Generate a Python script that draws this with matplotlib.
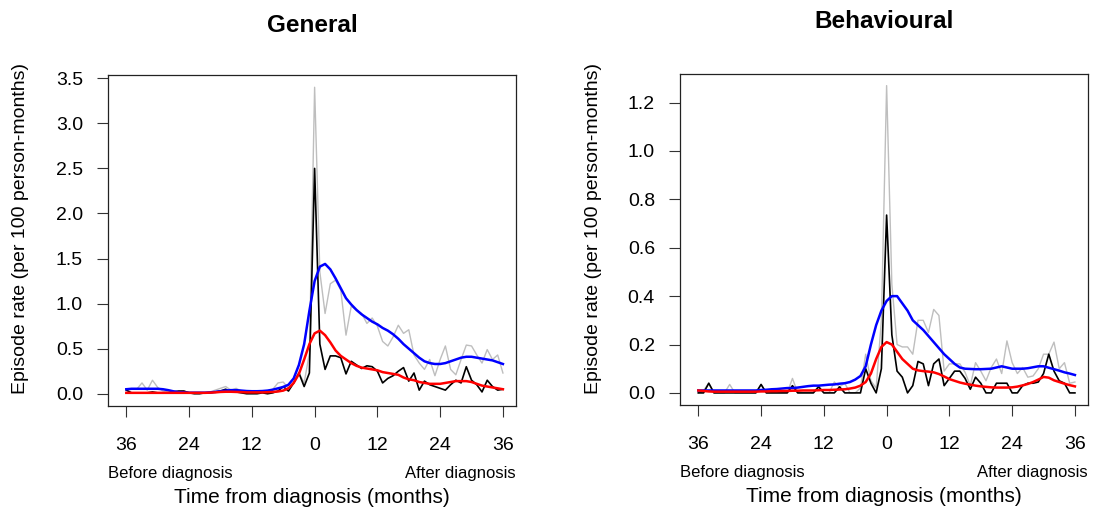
"""
Episode rates around diagnosis - General vs Behavioural panels.
"""

import matplotlib
matplotlib.use('Agg')
import matplotlib.pyplot as plt
import numpy as np

plt.rcParams['font.family'] = ['Liberation Sans', 'DejaVu Sans']

# months relative to diagnosis
months = list(range(-36, 37))

# ---- General panel ----
gen_grey = [0.04, 0.05, 0.05, 0.12, 0.04, 0.15, 0.07, 0.03, 0.02, 0.03,
            0.02, 0.03, 0.01, 0.01, 0.01, 0.01, 0.02, 0.04, 0.06, 0.08,
            0.04, 0.06, 0.03, 0.02, 0.02, 0.02, 0.02, 0.03, 0.05, 0.12,
            0.13, 0.06, 0.12, 0.23, 0.12, 0.45, 3.40, 1.35, 0.89, 1.22,
            1.26, 1.15, 0.65, 0.97, 0.93, 0.89, 0.78, 0.84, 0.75, 0.58,
            0.53, 0.63, 0.76, 0.67, 0.71, 0.43, 0.34, 0.27, 0.38, 0.20,
            0.38, 0.53, 0.27, 0.21, 0.38, 0.54, 0.53, 0.43, 0.34, 0.49,
            0.38, 0.43, 0.23]
gen_black = [0.04, 0.01, 0.01, 0.01, 0.01, 0.02, 0.01, 0.01, 0.01, 0.02,
             0.03, 0.03, 0.01, 0.00, 0.00, 0.01, 0.01, 0.02, 0.03, 0.05,
             0.02, 0.02, 0.01, 0.00, 0.00, 0.00, 0.01, 0.00, 0.01, 0.03,
             0.08, 0.03, 0.12, 0.23, 0.08, 0.23, 2.50, 0.55, 0.27, 0.42,
             0.42, 0.40, 0.22, 0.36, 0.32, 0.28, 0.31, 0.30, 0.25, 0.12,
             0.17, 0.20, 0.25, 0.29, 0.14, 0.23, 0.04, 0.14, 0.10, 0.08,
             0.06, 0.04, 0.10, 0.15, 0.12, 0.30, 0.15, 0.10, 0.02, 0.15,
             0.08, 0.04, 0.05]
gen_blue = [0.05, 0.055, 0.055, 0.055, 0.055, 0.055, 0.055, 0.05, 0.04, 0.027,
            0.018, 0.015, 0.012, 0.012, 0.012, 0.012, 0.015, 0.02, 0.028, 0.035,
            0.04, 0.04, 0.035, 0.03, 0.028, 0.028, 0.03, 0.035, 0.045, 0.06,
            0.075, 0.10, 0.17, 0.32, 0.55, 0.92, 1.25, 1.41, 1.44, 1.38,
            1.28, 1.17, 1.06, 0.99, 0.93, 0.88, 0.84, 0.80, 0.77, 0.73,
            0.70, 0.66, 0.61, 0.55, 0.50, 0.45, 0.40, 0.36, 0.34, 0.33,
            0.33, 0.34, 0.36, 0.38, 0.40, 0.41, 0.41, 0.40, 0.39, 0.38,
            0.37, 0.35, 0.33]
gen_red = [0.01, 0.01, 0.01, 0.01, 0.01, 0.01, 0.01, 0.01, 0.01, 0.01,
           0.01, 0.01, 0.01, 0.01, 0.01, 0.01, 0.012, 0.015, 0.02, 0.022,
           0.022, 0.02, 0.018, 0.015, 0.015, 0.015, 0.015, 0.017, 0.02, 0.025,
           0.035, 0.06, 0.12, 0.22, 0.38, 0.55, 0.67, 0.70, 0.65, 0.57,
           0.48, 0.42, 0.38, 0.34, 0.31, 0.29, 0.28, 0.27, 0.26, 0.24,
           0.23, 0.22, 0.21, 0.18, 0.16, 0.15, 0.13, 0.12, 0.11, 0.11,
           0.11, 0.12, 0.13, 0.14, 0.14, 0.14, 0.13, 0.11, 0.09, 0.08,
           0.07, 0.06, 0.05]

# ---- Behavioural panel ----
beh_grey = [0.0, 0.01, 0.04, 0.0, 0.0, 0.0, 0.035, 0.0, 0.0, 0.0,
            0.0, 0.0, 0.035, 0.0, 0.0, 0.0, 0.0, 0.0, 0.06, 0.0,
            0.0, 0.0, 0.0, 0.03, 0.0, 0.0, 0.045, 0.025, 0.04, 0.0,
            0.0, 0.02, 0.16, 0.05, 0.02, 0.30, 1.27, 0.45, 0.20, 0.19,
            0.19, 0.16, 0.30, 0.30, 0.25, 0.345, 0.32, 0.09, 0.12, 0.12,
            0.12, 0.085, 0.03, 0.125, 0.09, 0.05, 0.105, 0.14, 0.08, 0.215,
            0.125, 0.08, 0.105, 0.065, 0.07, 0.10, 0.16, 0.16, 0.21, 0.10,
            0.125, 0.04, 0.045]
beh_black = [0.0, 0.0, 0.04, 0.0, 0.0, 0.0, 0.0, 0.0, 0.0, 0.0,
             0.0, 0.0, 0.035, 0.0, 0.0, 0.0, 0.0, 0.0, 0.03, 0.0,
             0.0, 0.0, 0.0, 0.025, 0.0, 0.0, 0.0, 0.025, 0.0, 0.0,
             0.0, 0.0, 0.10, 0.04, 0.0, 0.10, 0.735, 0.24, 0.09, 0.065,
             0.0, 0.03, 0.13, 0.12, 0.03, 0.12, 0.14, 0.03, 0.06, 0.09,
             0.09, 0.06, 0.015, 0.065, 0.04, 0.0, 0.0, 0.04, 0.04, 0.04,
             0.0, 0.0, 0.03, 0.04, 0.04, 0.045, 0.08, 0.16, 0.09, 0.05,
             0.04, 0.0, 0.0]
beh_blue = [0.01, 0.01, 0.01, 0.01, 0.01, 0.01, 0.01, 0.01, 0.01, 0.01,
            0.01, 0.01, 0.012, 0.013, 0.015, 0.016, 0.018, 0.02, 0.02, 0.022,
            0.025, 0.028, 0.03, 0.03, 0.032, 0.034, 0.035, 0.038, 0.04, 0.045,
            0.055, 0.07, 0.11, 0.20, 0.28, 0.34, 0.38, 0.40, 0.40, 0.37,
            0.34, 0.30, 0.28, 0.26, 0.235, 0.21, 0.185, 0.16, 0.14, 0.12,
            0.105, 0.10, 0.099, 0.098, 0.098, 0.099, 0.10, 0.105, 0.11, 0.105,
            0.10, 0.10, 0.10, 0.102, 0.106, 0.11, 0.11, 0.104, 0.098, 0.092,
            0.085, 0.08, 0.074]
beh_red = [0.01, 0.008, 0.006, 0.005, 0.005, 0.005, 0.005, 0.005, 0.005, 0.005,
           0.005, 0.005, 0.006, 0.006, 0.007, 0.007, 0.008, 0.008, 0.009, 0.009,
           0.01, 0.01, 0.01, 0.011, 0.012, 0.012, 0.013, 0.014, 0.015, 0.018,
           0.022, 0.03, 0.045, 0.08, 0.14, 0.19, 0.21, 0.20, 0.17, 0.14,
           0.12, 0.10, 0.093, 0.09, 0.088, 0.085, 0.078, 0.068, 0.057, 0.05,
           0.043, 0.038, 0.034, 0.03, 0.027, 0.025, 0.023, 0.022, 0.022, 0.022,
           0.023, 0.026, 0.031, 0.037, 0.045, 0.055, 0.066, 0.063, 0.052, 0.045,
           0.038, 0.032, 0.027]

xtick_pos = [-36, -24, -12, 0, 12, 24, 36]
xtick_labels = ['36', '24', '12', '0', '12', '24', '36']


def draw_panel(ax, grey, black, blue, red, ylim, yticks):
    ax.plot(months, grey, color='#BEBEBE', linewidth=1.0)
    ax.plot(months, black, color='black', linewidth=1.2)
    ax.plot(months, blue, color='#0000FF', linewidth=1.8)
    ax.plot(months, red, color='#FF0000', linewidth=1.8)

    ax.set_xlim(-39.5, 38.5)
    ax.set_ylim(*ylim)
    ax.set_xticks(xtick_pos)
    ax.set_xticklabels(xtick_labels)
    ax.set_yticks(yticks)
    ax.set_yticklabels([f'{t:.1f}' for t in yticks])

    ax.tick_params(axis='both', direction='out', length=8, width=0.8,
                   labelsize=14, color='#333333')
    ax.tick_params(axis='x', pad=14)
    ax.tick_params(axis='y', pad=10)
    for sp in ax.spines.values():
        sp.set_linewidth(0.9)
        sp.set_color('#222222')

    ax.text(0.0, -0.203, 'Before diagnosis', transform=ax.transAxes,
            ha='left', va='center', fontsize=12)
    ax.text(1.0, -0.203, 'After diagnosis', transform=ax.transAxes,
            ha='right', va='center', fontsize=12)
    ax.set_xlabel('Time from diagnosis (months)', fontsize=15)
    ax.xaxis.label.set_va('center')
    ax.xaxis.set_label_coords(0.5, -0.275)


fig = plt.figure(figsize=(10.93, 5.07), dpi=100)
W, H = 1093.0, 507.0

ax1 = fig.add_axes([108 / W, 1 - 406 / H, 408 / W, 331 / H])
ax2 = fig.add_axes([680 / W, 1 - 405 / H, 408 / W, 331 / H])

draw_panel(ax1, gen_grey, gen_black, gen_blue, gen_red,
           (-0.136, 3.536), np.arange(0, 3.51, 0.5))
draw_panel(ax2, beh_grey, beh_black, beh_blue, beh_red,
           (-0.05, 1.318), np.arange(0, 1.21, 0.2))

fig.text(312 / W, 1 - 25 / H, 'General', ha='center', va='center',
         fontsize=17.5, fontweight='bold')
fig.text(884 / W, 1 - 22 / H, 'Behavioural', ha='center', va='center',
         fontsize=17.5, fontweight='bold')

ylab = 'Episode rate (per 100 person-months)'
fig.text(21 / W, 1 - 228 / H, ylab, rotation=90, ha='center', va='center',
         fontsize=14)
fig.text(593 / W, 1 - 228 / H, ylab, rotation=90, ha='center', va='center',
         fontsize=14)

fig.savefig('out.png', dpi=100)
plt.close('all')
